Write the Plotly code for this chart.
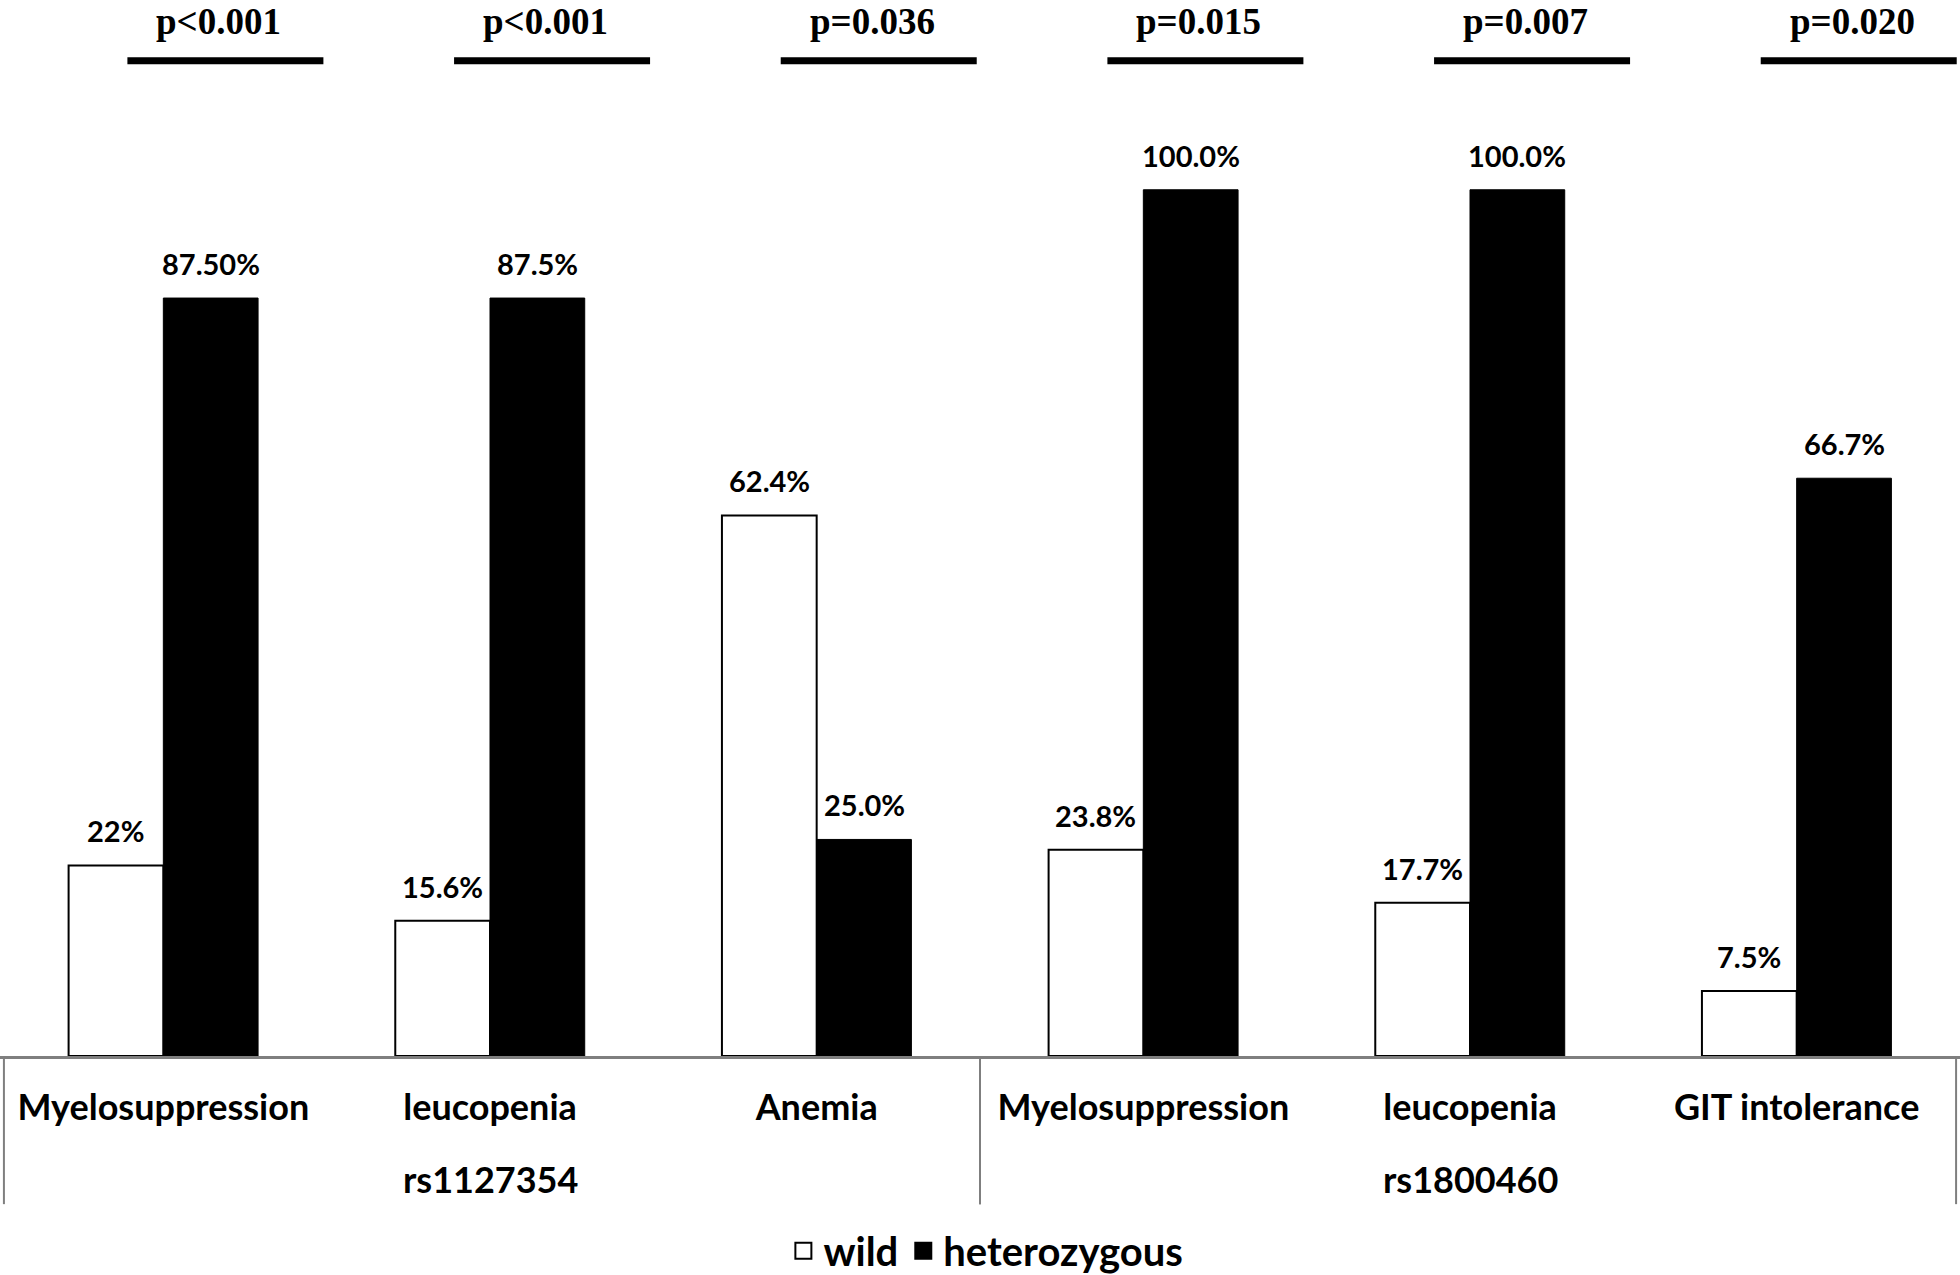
import plotly.graph_objects as go

snps = ["rs1127354", "rs1800460"]
effects = ["Myelosuppression", "leucopenia", "Anemia",
           "Myelosuppression", "leucopenia", "GIT intolerance"]
snp_of_effect = [0, 0, 0, 1, 1, 1]
wild = [22.0, 15.6, 62.4, 23.8, 17.7, 7.5]
wild_lbl = ["22%", "15.6%", "62.4%", "23.8%", "17.7%", "7.5%"]
hetero = [87.5, 87.5, 25.0, 100.0, 100.0, 66.7]
hetero_lbl = ["87.50%", "87.5%", "25.0%", "100.0%", "100.0%", "66.7%"]
p_values = ["p<0.001", "p<0.001", "p=0.036", "p=0.015", "p=0.007", "p=0.020"]

SANS = "Lato, Open Sans, DejaVu Sans, sans-serif"
SERIF = "Liberation Serif, Times New Roman, serif"
BAR_W = 0.29
GREY = "#7f7f7f"

xs = list(range(len(effects)))
x_lo, x_hi = -0.5, len(effects) - 0.5

fig = go.Figure()
fig.add_trace(go.Bar(
    x=xs, y=wild, name="wild", width=BAR_W, offset=-BAR_W, showlegend=False,
    marker=dict(color="white", line=dict(color="black", width=2))
))
fig.add_trace(go.Bar(
    x=xs, y=hetero, name="heterozygous", width=BAR_W, offset=0, showlegend=False,
    marker=dict(color="black", line=dict(color="black", width=1))
))
# legend proxies (bigger squares than the bar legend glyph)
for name, fill in [("wild", "white"), ("heterozygous", "black")]:
    fig.add_trace(go.Scatter(
        x=[None], y=[None], mode="markers", name=name,
        marker=dict(symbol="square", size=16, color=fill, line=dict(color="black", width=2))
    ))

# value labels above bars
for series, labels, side in [(wild, wild_lbl, -1), (hetero, hetero_lbl, 1)]:
    for i, (v, t) in enumerate(zip(series, labels)):
        fig.add_annotation(x=i + side * BAR_W / 2, y=v, yanchor="bottom", yshift=15,
                           text=t, showarrow=False,
                           font=dict(family=SANS, size=29, color="black", weight="bold"))

# significance bars with p-values
for i, p in enumerate(p_values):
    cx = i + 0.19
    fig.add_shape(type="line", xref="x", yref="y", x0=cx - 0.3, x1=cx + 0.3,
                  y0=114.9, y1=114.9, line=dict(color="black", width=7))
    fig.add_annotation(x=cx - 0.02, y=114.9, xanchor="center", yanchor="bottom", yshift=17,
                       text=p, showarrow=False,
                       font=dict(family=SERIF, size=37, color="black", weight="bold"))

# group labels and dividers below the axis
for g, name in enumerate(snps):
    idx = [i for i, s in enumerate(snp_of_effect) if s == g]
    fig.add_annotation(x=sum(idx) / len(idx), xref="x", yref="paper", y=-0.119,
                       yanchor="middle", text=name, showarrow=False,
                       font=dict(family=SANS, size=36, color="black", weight="bold"))
    for edge in (min(idx) - 0.5, max(idx) + 0.5):
        edge = min(max(edge, x_lo + 0.012), x_hi - 0.012)
        fig.add_shape(type="line", xref="x", yref="paper", x0=edge, x1=edge,
                      y0=0, y1=-0.143, line=dict(color=GREY, width=2))

fig.update_layout(
    width=1960, height=1275, plot_bgcolor="white", paper_bgcolor="white",
    barmode="group",
    margin=dict(l=0, r=0, t=20, b=219),
    xaxis=dict(range=[x_lo, x_hi], tickvals=xs, ticktext=effects, automargin=False,
               showline=True, linecolor=GREY, linewidth=3, ticks="", showgrid=False,
               zeroline=False, ticklabelstandoff=18,
               tickfont=dict(family=SANS, size=36, color="black", weight="bold")),
    yaxis=dict(visible=False, range=[0, 119.6], automargin=False),
    showlegend=True,
    legend=dict(orientation="h", x=0.503, xanchor="center",
                yref="container", y=0.019, yanchor="middle",
                font=dict(family=SANS, size=40, color="black", weight="bold"),
                itemwidth=30, tracegroupgap=0),
)

fig.write_html("out.html", config={"displayModeBar": False},
               post_script="document.body.style.margin='0';")
